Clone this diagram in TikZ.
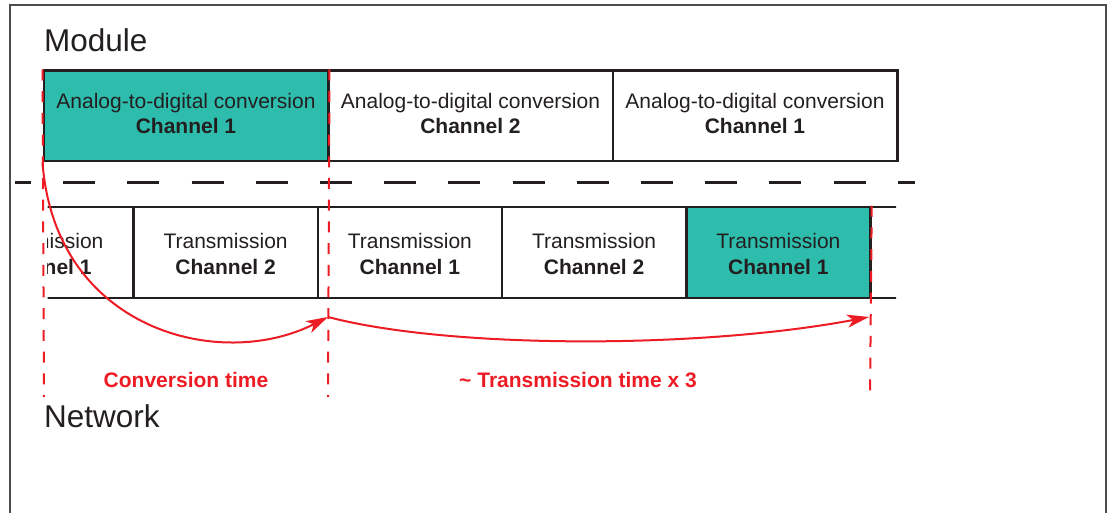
\documentclass[tikz,border=0pt]{standalone}
\usepackage{fontspec}
\setmainfont{Liberation Sans}
\usetikzlibrary{arrows.meta}
\definecolor{ink}{HTML}{231F20}
\definecolor{tealfill}{HTML}{2EBDAC}
\definecolor{redline}{HTML}{ED1C24}
\definecolor{framegray}{HTML}{4D4D4D}
\tikzset{
  adcbox/.style={draw=ink, line width=2.5pt, minimum width=284.5pt, minimum height=90.5pt,
    inner sep=0pt, align=center, text=ink, font=\fontsize{21}{25}\selectfont},
  txbox/.style={draw=ink, line width=2.5pt, minimum width=184.25pt, minimum height=91pt,
    inner sep=0pt, align=center, text=ink, font=\fontsize{21}{26}\selectfont},
  bigtitle/.style={anchor=base west, text=ink, inner sep=0pt, font=\fontsize{31.5}{36}\selectfont},
  redlabel/.style={anchor=base, text=redline, inner sep=0pt, font=\fontsize{21}{25}\selectfont\bfseries},
  reddash/.style={draw=redline, line width=2pt, dash pattern=on 11pt off 10.7pt},
  timearrow/.style={draw=redline, line width=2pt, -{Stealth[length=22pt,width=13pt,inset=6pt]}},
  sepline/.style={draw=ink, line width=3pt, dash pattern=on 32pt off 32.2pt, dash phase=16pt}
}
\begin{document}
\begin{tikzpicture}[x=1pt,y=-1pt]
\useasboundingbox (0,0) rectangle (1112,513);
% outer frame (open at the bottom)
\draw[framegray, line width=1.5pt] (10,513) -- (10,5) -- (1106,5) -- (1106,513);
% titles
\node[bigtitle] (module) at (44,52) {Module};
\node[bigtitle] (network) at (44,427) {Network};
% module row
\node[adcbox, fill=tealfill] (a1) at (186,116) {Analog-to-digital conversion\\\textbf{Channel 1}\rule[-6.2pt]{0pt}{6.2pt}};
\node[adcbox] (a2) at (470.5,116) {Analog-to-digital conversion\\\textbf{Channel 2}\rule[-6.2pt]{0pt}{6.2pt}};
\node[adcbox] (a3) at (755,116) {Analog-to-digital conversion\\\textbf{Channel 1}\rule[-6.2pt]{0pt}{6.2pt}};
% separator
\coordinate (sL) at (15,183);
\coordinate (sR) at (915,183);
\draw[sepline] (sL) -- (sR);
% network row (clipped)
\begin{scope}
\clip (47.5,195) rectangle (896,310);
\node[txbox] (t0) at (41.375,252.5) {\rule{0pt}{19pt}Transmission\\\textbf{Channel 1}};
\node[txbox] (t1) at (225.625,252.5) {\rule{0pt}{19pt}Transmission\\\textbf{Channel 2}};
\node[txbox] (t2) at (409.875,252.5) {\rule{0pt}{19pt}Transmission\\\textbf{Channel 1}};
\node[txbox] (t3) at (594.125,252.5) {\rule{0pt}{19pt}Transmission\\\textbf{Channel 2}};
\node[txbox, fill=tealfill] (t4) at (778.375,252.5) {\rule{0pt}{19pt}Transmission\\\textbf{Channel 1}};
\node[txbox] (t5) at (962.625,252.5) {};
\end{scope}
% red timing marks
\coordinate (m0) at (44,397);
\coordinate (m1) at (328,397);
\coordinate (m2) at (870,397);
\draw[reddash] (a1.north west) -- (m0);
\draw[reddash] (a1.north east) -- (m1);
\draw[reddash] (t4.north east) -- (m2);
\coordinate (p1) at (328,317);
\coordinate (p2) at (869,317);
\draw[timearrow] (a1.south west) .. controls (55,330) and (220,372) .. (p1);
\draw[timearrow] (p1) .. controls (450,349) and (700,349) .. (p2);
\node[redlabel] (lconv) at (186,387) {Conversion time};
\node[redlabel] (ltx) at (578,387) {\string~ Transmission time x 3};
\end{tikzpicture}
\end{document}
